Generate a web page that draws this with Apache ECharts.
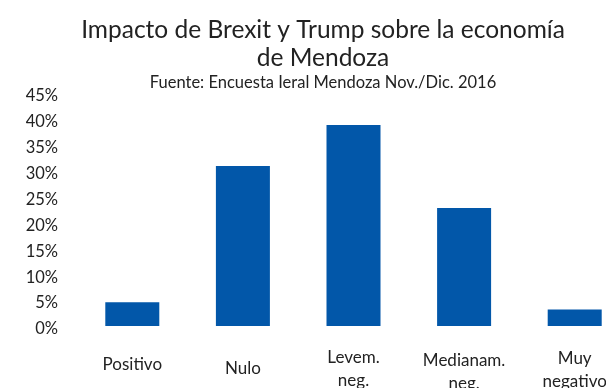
<!DOCTYPE html>
<html>
<head>
<meta charset="utf-8">
<script src="https://cdn.jsdelivr.net/npm/echarts@6/dist/echarts.min.js"></script>
<style>
  html, body { margin: 0; padding: 0; background: #fff; }
  #chart { width: 606px; height: 388px; }
</style>
</head>
<body>
<div id="chart"></div>
<script>
// data
var categories = ["Positivo", "Nulo", "Levem.\nneg.", "Medianam.\nneg.", "Muy\nnegativo"];
var values = [4.6, 30.9, 38.8, 22.8, 3.2];
// small vertical nudges so each label sits where the original one does
var labelNudge = [7, 11, 0, 3, 1];

var myChart = echarts.init(document.getElementById("chart"));
var font = "Lato";

myChart.setOption({
  animation: false,
  textStyle: { fontFamily: font },
  title: {
    text: "Impacto de Brexit y Trump sobre la economía\nde Mendoza",
    subtext: "Fuente: Encuesta Ieral Mendoza Nov./Dic. 2016",
    left: 318,
    top: 11,
    textAlign: "center",
    itemGap: 2,
    textStyle: {
      fontFamily: font,
      fontSize: 24.5,
      fontWeight: "normal",
      color: "#222",
      lineHeight: 28,
    },
    subtextStyle: {
      fontFamily: font,
      fontSize: 16.5,
      color: "#222",
      lineHeight: 18,
    },
  },
  grid: {
    left: 77,
    right: -24,
    top: 93,
    bottom: 62,
    outerBoundsMode: "none",
    containLabel: false,
  },
  xAxis: {
    type: "category",
    data: categories.map(function (c, i) {
      return { value: c, textStyle: { padding: [labelNudge[i], 0, 0, 0] } };
    }),
    axisLine: { show: false },
    axisTick: { show: false },
    axisLabel: {
      interval: 0,
      margin: 20,
      fontSize: 17,
      lineHeight: 23,
      color: "#222",
      fontFamily: font,
    },
  },
  yAxis: {
    type: "value",
    min: 0,
    max: 45,
    interval: 5,
    splitLine: { show: false },
    axisLine: { show: false },
    axisTick: { show: false },
    axisLabel: {
      formatter: function (v) {
        return "{v|" + v + "%}";
      },
      margin: 19,
      color: "#222",
      rich: {
        v: {
          fontFamily: font,
          fontSize: 16.5,
          color: "#222",
          lineHeight: 20,
          padding: [6, 0, 0, 0],
        },
      },
    },
  },
  series: [
    {
      type: "bar",
      data: values,
      barWidth: 54,
      itemStyle: { color: "#0257A9" },
    },
  ],
});
</script>
</body>
</html>
